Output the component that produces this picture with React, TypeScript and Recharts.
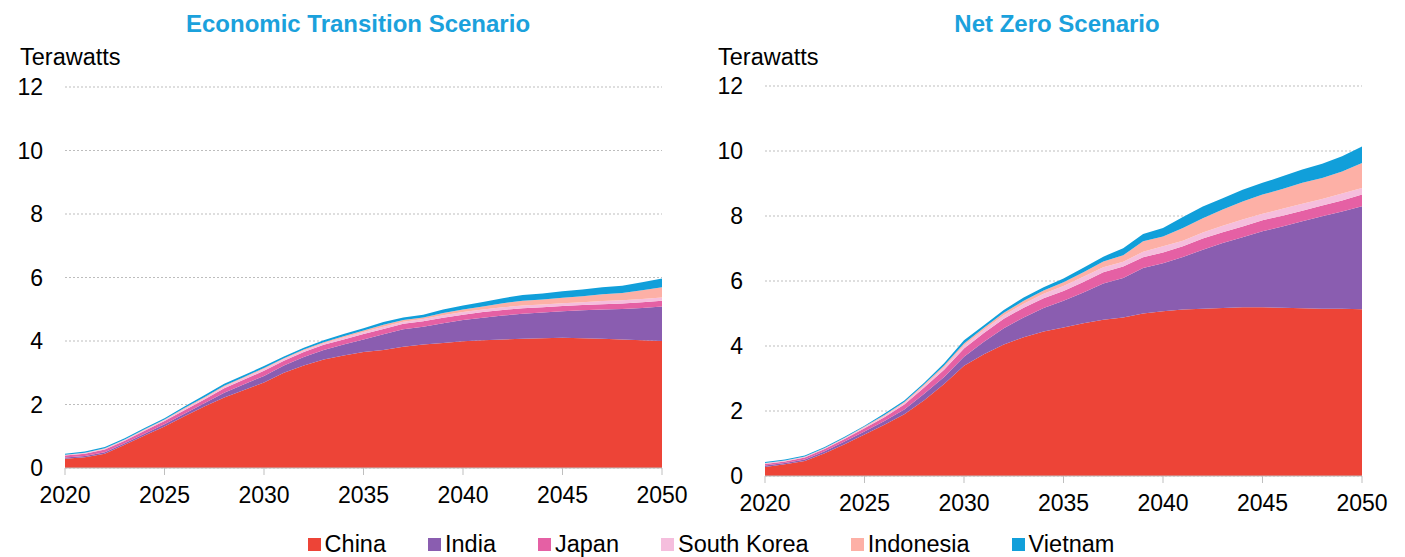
import React from 'react';
import { AreaChart, Area, XAxis, YAxis, CartesianGrid } from 'recharts';

const years = [
  2020, 2021, 2022, 2023, 2024, 2025, 2026, 2027, 2028, 2029, 2030,
  2031, 2032, 2033, 2034, 2035, 2036, 2037, 2038, 2039, 2040,
  2041, 2042, 2043, 2044, 2045, 2046, 2047, 2048, 2049, 2050,
];
const xTicks = [2020, 2025, 2030, 2035, 2040, 2045, 2050];
const yTicks = [0, 2, 4, 6, 8, 10, 12];

const countries = ['China', 'India', 'Japan', 'South Korea', 'Indonesia', 'Vietnam'];
const colors = ['#ED4437', '#8A5DB0', '#E560A4', '#F5BEDD', '#FDB0A6', '#119FDA'];

// Economic Transition Scenario (TW)
const etChina = [0.29, 0.34, 0.45, 0.73, 1.02, 1.31, 1.63, 1.94, 2.22, 2.46, 2.69, 3.0, 3.23, 3.42, 3.54, 3.65, 3.72, 3.82, 3.89, 3.94, 3.99, 4.02, 4.05, 4.07, 4.09, 4.1, 4.09, 4.07, 4.05, 4.02, 4.0];
const etIndia = [0.04, 0.04, 0.05, 0.05, 0.06, 0.07, 0.08, 0.1, 0.15, 0.18, 0.21, 0.23, 0.27, 0.3, 0.35, 0.4, 0.49, 0.55, 0.56, 0.62, 0.67, 0.71, 0.75, 0.79, 0.81, 0.84, 0.88, 0.92, 0.96, 1.02, 1.09];
const etJapan = [0.06, 0.07, 0.08, 0.08, 0.09, 0.1, 0.11, 0.12, 0.14, 0.15, 0.16, 0.15, 0.15, 0.16, 0.16, 0.17, 0.17, 0.17, 0.17, 0.17, 0.17, 0.18, 0.18, 0.17, 0.16, 0.16, 0.16, 0.17, 0.17, 0.18, 0.18];
const etKorea = [0.02, 0.02, 0.03, 0.03, 0.03, 0.03, 0.04, 0.04, 0.05, 0.05, 0.06, 0.05, 0.05, 0.05, 0.06, 0.06, 0.07, 0.07, 0.07, 0.08, 0.08, 0.08, 0.08, 0.09, 0.09, 0.09, 0.09, 0.1, 0.1, 0.1, 0.1];
const etIndonesia = [0.01, 0.01, 0.01, 0.01, 0.02, 0.02, 0.03, 0.03, 0.03, 0.03, 0.03, 0.03, 0.03, 0.03, 0.04, 0.05, 0.06, 0.05, 0.05, 0.07, 0.08, 0.1, 0.13, 0.15, 0.16, 0.17, 0.19, 0.21, 0.23, 0.28, 0.32];
const etVietnam = [0.03, 0.04, 0.04, 0.04, 0.04, 0.04, 0.05, 0.06, 0.06, 0.06, 0.06, 0.05, 0.06, 0.06, 0.07, 0.07, 0.09, 0.08, 0.09, 0.11, 0.13, 0.14, 0.16, 0.18, 0.19, 0.21, 0.21, 0.22, 0.23, 0.25, 0.28];

// Net Zero Scenario (TW)
const nzChina = [0.28, 0.36, 0.46, 0.7, 0.98, 1.28, 1.58, 1.9, 2.33, 2.83, 3.39, 3.75, 4.05, 4.27, 4.45, 4.57, 4.7, 4.81, 4.88, 5.0, 5.07, 5.12, 5.15, 5.17, 5.19, 5.19, 5.18, 5.16, 5.15, 5.15, 5.13];
const nzIndia = [0.04, 0.04, 0.05, 0.06, 0.08, 0.09, 0.11, 0.15, 0.2, 0.22, 0.28, 0.38, 0.5, 0.61, 0.72, 0.82, 0.95, 1.11, 1.21, 1.4, 1.48, 1.62, 1.81, 2.0, 2.16, 2.34, 2.5, 2.68, 2.84, 2.99, 3.17];
const nzJapan = [0.05, 0.05, 0.06, 0.07, 0.08, 0.1, 0.12, 0.15, 0.19, 0.22, 0.25, 0.27, 0.29, 0.3, 0.3, 0.3, 0.32, 0.35, 0.36, 0.33, 0.33, 0.33, 0.35, 0.33, 0.33, 0.34, 0.33, 0.32, 0.33, 0.34, 0.36];
const nzKorea = [0.02, 0.02, 0.02, 0.02, 0.02, 0.03, 0.04, 0.05, 0.06, 0.08, 0.1, 0.1, 0.11, 0.12, 0.14, 0.16, 0.16, 0.15, 0.14, 0.17, 0.19, 0.17, 0.18, 0.2, 0.21, 0.2, 0.21, 0.22, 0.2, 0.21, 0.2];
const nzIndonesia = [0.01, 0.01, 0.01, 0.01, 0.02, 0.02, 0.03, 0.03, 0.04, 0.05, 0.06, 0.06, 0.07, 0.09, 0.1, 0.11, 0.14, 0.18, 0.2, 0.32, 0.3, 0.39, 0.44, 0.5, 0.56, 0.59, 0.61, 0.64, 0.65, 0.68, 0.77];
const nzVietnam = [0.03, 0.03, 0.03, 0.03, 0.03, 0.03, 0.04, 0.04, 0.05, 0.07, 0.1, 0.08, 0.09, 0.1, 0.1, 0.12, 0.14, 0.15, 0.22, 0.23, 0.26, 0.34, 0.36, 0.35, 0.36, 0.36, 0.39, 0.41, 0.44, 0.47, 0.51];

const buildRows = (series: number[][]) =>
  years.map((year, i) => {
    const row: Record<string, number> = { year };
    countries.forEach((c, k) => {
      row[c] = series[k][i];
    });
    return row;
  });

const etData = buildRows([etChina, etIndia, etJapan, etKorea, etIndonesia, etVietnam]);
const nzData = buildRows([nzChina, nzIndia, nzJapan, nzKorea, nzIndonesia, nzVietnam]);

const FONT = '"Liberation Sans", Arial, sans-serif';

interface PanelProps {
  data: Record<string, number>[];
  bottom: number;
  top: number;
}

const Panel = ({ data, bottom, top }: PanelProps) => (
  <AreaChart
    width={700}
    height={557}
    data={data}
    margin={{ top, right: 38, left: 0, bottom }}
  >
    <CartesianGrid vertical={false} strokeDasharray="2 2" stroke="#bdbdbd" />
    <XAxis
      dataKey="year"
      type="number"
      domain={[2020, 2050]}
      ticks={xTicks}
      interval={0}
      height={40}
      axisLine={{ stroke: '#bfbfbf' }}
      tickLine={{ stroke: '#bfbfbf' }}
      tickSize={7}
      tickMargin={12}
      tick={{ fill: '#000', fontSize: 23 }}
    />
    <YAxis
      domain={[0, 12]}
      ticks={yTicks}
      interval={0}
      width={65}
      axisLine={false}
      tickLine={false}
      tickSize={0}
      tickMargin={22}
      tick={{ fill: '#000', fontSize: 23 }}
    />
    {countries.map((c, k) => (
      <Area
        key={c}
        dataKey={c}
        stackId="a"
        type="linear"
        fill={colors[k]}
        fillOpacity={1}
        stroke="none"
        dot={false}
        activeDot={false}
        isAnimationActive={false}
      />
    ))}
  </AreaChart>
);

export default function App() {
  return (
    <div
      style={{
        position: 'absolute',
        left: 0,
        top: 0,
        width: 1405,
        height: 557,
        background: '#fff',
        fontFamily: FONT,
        overflow: 'hidden',
      }}
    >
      <div style={{ position: 'absolute', left: 0, top: 0 }}>
        <Panel data={etData} top={87} bottom={49} />
      </div>
      <div style={{ position: 'absolute', left: 700, top: 0 }}>
        <Panel data={nzData} top={86} bottom={41} />
      </div>

      <div style={{ position: 'absolute', left: 158, width: 400, top: 10, textAlign: 'center', color: '#1BA1DC', fontWeight: 'bold', fontSize: 24 }}>
        Economic Transition Scenario
      </div>
      <div style={{ position: 'absolute', left: 857, width: 400, top: 10, textAlign: 'center', color: '#1BA1DC', fontWeight: 'bold', fontSize: 24 }}>
        Net Zero Scenario
      </div>
      <div style={{ position: 'absolute', left: 20, top: 44, fontSize: 23.5, color: '#000' }}>Terawatts</div>
      <div style={{ position: 'absolute', left: 718, top: 44, fontSize: 23.5, color: '#000' }}>Terawatts</div>

      <div
        style={{
          position: 'absolute',
          left: 0,
          width: 1422,
          top: 531,
          display: 'flex',
          justifyContent: 'center',
          gap: 42,
          fontSize: 23.5,
          color: '#000',
        }}
      >
        {countries.map((c, k) => (
          <div key={c} style={{ display: 'flex', alignItems: 'center' }}>
            <span style={{ display: 'inline-block', width: 13, height: 13, background: colors[k], marginRight: 4 }} />
            <span>{c}</span>
          </div>
        ))}
      </div>
    </div>
  );
}
